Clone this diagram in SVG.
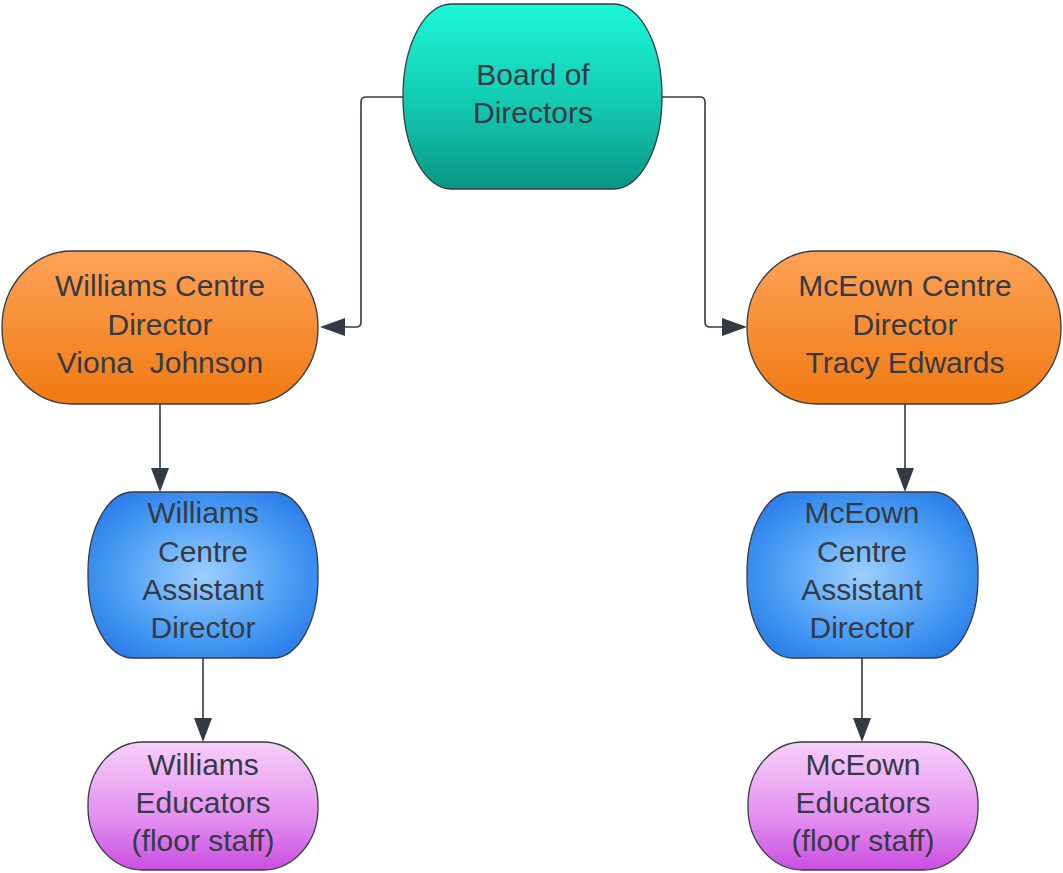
<svg xmlns="http://www.w3.org/2000/svg" width="1063" height="873" viewBox="0 0 1063 873">
<defs>
<linearGradient id="gTeal" x1="0" y1="0" x2="0" y2="1">
<stop offset="0" stop-color="#1cf7d9"/><stop offset="0.55" stop-color="#13c9b0"/><stop offset="1" stop-color="#0a9684"/>
</linearGradient>
<linearGradient id="gOrange" x1="0" y1="0" x2="0" y2="1">
<stop offset="0" stop-color="#fda257"/><stop offset="1" stop-color="#f07a12"/>
</linearGradient>
<radialGradient id="gBlue" cx="0.5" cy="0.5" r="0.6">
<stop offset="0" stop-color="#9ccfff"/><stop offset="0.6" stop-color="#4e9ff5"/><stop offset="1" stop-color="#2a7de8"/>
</radialGradient>
<linearGradient id="gPurple" x1="0" y1="0" x2="0" y2="1">
<stop offset="0" stop-color="#f6d0f8"/><stop offset="0.6" stop-color="#e38ef0"/><stop offset="1" stop-color="#c94ee0"/>
</linearGradient>
</defs>
<style>
.node{stroke:#333a45;stroke-width:1.3}
.lbl{font-family:"Liberation Sans",Arial,sans-serif;font-size:30px;fill:#353a44;text-anchor:middle;white-space:pre}
.con{fill:none;stroke:#333a45;stroke-width:1.6}
.head{fill:#333a45}
</style>
<rect width="1063" height="873" fill="#ffffff"/>
<g id="connectors">
<path class="con" d="M403,97 L366,97 Q361,97 361,102 L361,322 Q361,327 356,327 L335,327"/>
<path class="head" d="M320,327 L345,318 L345,336 z"/>
<path class="con" d="M662,97 L700,97 Q705,97 705,102 L705,322 Q705,327 710,327 L732,327"/>
<path class="head" d="M747,327 L722,318 L722,336 z"/>
<path class="con" d="M160,404 L160,480"/>
<path class="head" d="M160,492 L151,468 L169,468 z"/>
<path class="con" d="M905,404 L905,480"/>
<path class="head" d="M905,492 L896,468 L914,468 z"/>
<path class="con" d="M203,658 L203,730"/>
<path class="head" d="M203,742 L194,718 L212,718 z"/>
<path class="con" d="M862,658 L862,730"/>
<path class="head" d="M862,742 L853,718 L871,718 z"/>
</g>
<g id="board">
<rect class="node" x="403" y="4" width="259" height="185" rx="48" ry="92" fill="url(#gTeal)"/>
<text class="lbl" x="533" y="85">Board of</text>
<text class="lbl" x="533" y="123">Directors</text>
</g>
<g id="williams-director">
<rect class="node" x="2" y="251" width="316" height="153" rx="70" ry="76" fill="url(#gOrange)"/>
<text class="lbl" x="160" y="296">Williams Centre</text>
<text class="lbl" x="160" y="335">Director</text>
<text class="lbl" x="160" y="373" xml:space="preserve">Viona  Johnson</text>
</g>
<g id="mceown-director">
<rect class="node" x="747" y="251" width="314" height="153" rx="70" ry="76" fill="url(#gOrange)"/>
<text class="lbl" x="905" y="296">McEown Centre</text>
<text class="lbl" x="905" y="335">Director</text>
<text class="lbl" x="905" y="373">Tracy Edwards</text>
</g>
<g id="williams-assistant">
<rect class="node" x="88" y="492" width="230" height="166" rx="45" ry="80" fill="url(#gBlue)"/>
<text class="lbl" x="203" y="523">Williams</text>
<text class="lbl" x="203" y="562">Centre</text>
<text class="lbl" x="203" y="600">Assistant</text>
<text class="lbl" x="203" y="638">Director</text>
</g>
<g id="mceown-assistant">
<rect class="node" x="747" y="492" width="231" height="166" rx="45" ry="80" fill="url(#gBlue)"/>
<text class="lbl" x="862" y="523">McEown</text>
<text class="lbl" x="862" y="562">Centre</text>
<text class="lbl" x="862" y="600">Assistant</text>
<text class="lbl" x="862" y="638">Director</text>
</g>
<g id="williams-educators">
<rect class="node" x="88" y="742" width="230" height="128" rx="55" ry="62" fill="url(#gPurple)"/>
<text class="lbl" x="203" y="775">Williams</text>
<text class="lbl" x="203" y="813">Educators</text>
<text class="lbl" x="203" y="851">(floor staff)</text>
</g>
<g id="mceown-educators">
<rect class="node" x="748" y="742" width="230" height="128" rx="55" ry="62" fill="url(#gPurple)"/>
<text class="lbl" x="863" y="775">McEown</text>
<text class="lbl" x="863" y="813">Educators</text>
<text class="lbl" x="863" y="851">(floor staff)</text>
</g>
</svg>
